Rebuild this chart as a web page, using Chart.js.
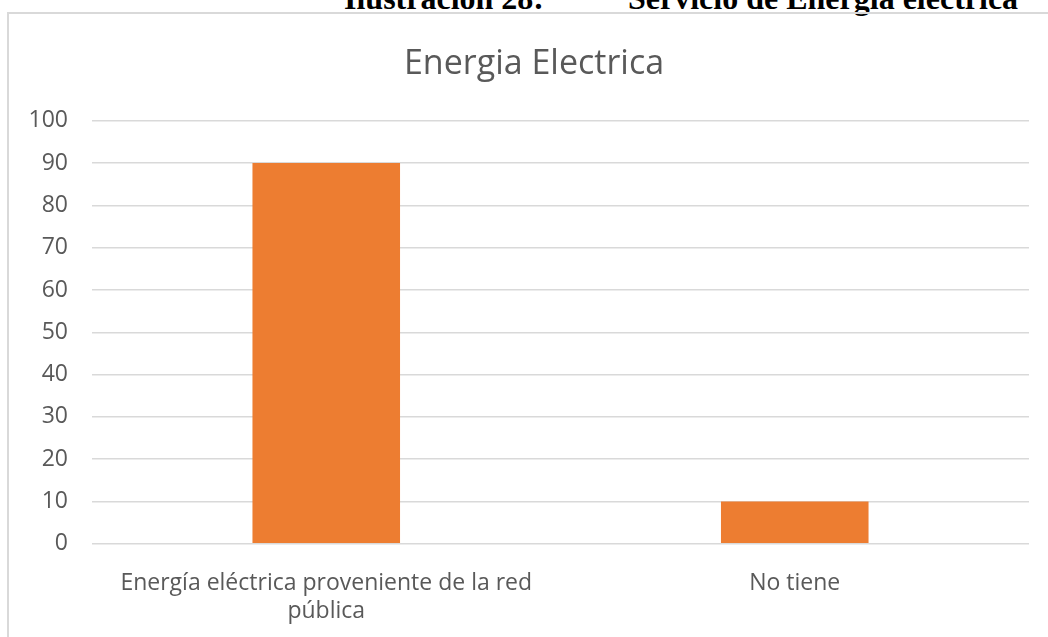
<!DOCTYPE html>
<html>
<head>
<meta charset="utf-8">
<script src="https://cdn.jsdelivr.net/npm/chart.js@4"></script>
<style>
  html, body { margin: 0; padding: 0; background: #fff; overflow: hidden; }
  body { width: 1048px; height: 637px; position: relative; }
  .caption {
    position: absolute; top: -18px; left: 0; width: 1048px; height: 32px;
    font: bold 32px "Liberation Serif", "Times New Roman", serif; color: #000;
    white-space: pre; line-height: 32px;
  }
  .caption span { position: absolute; top: 0; }
  .box {
    position: absolute; left: 7px; top: 12px; width: 1041px; height: 655px;
    border-left: 2px solid #d9d9d9; border-top: 2px solid #d9d9d9;
  }
  #chart { position: absolute; left: 0; top: 0; }
</style>
</head>
<body>
<div class="caption"><span style="left:344px">Ilustración 28:</span><span style="left:628px">Servicio de Energía eléctrica</span></div>
<div class="box"><canvas id="chart" width="1039" height="653"></canvas></div>
<script>
const chartTitle = 'Energia Electrica';
const categories = [['Energía eléctrica proveniente de la red', 'pública'], 'No tiene'];
const values = [90, 10];
const yTicks = [0, 10, 20, 30, 40, 50, 60, 70, 80, 90, 100];

document.addEventListener('DOMContentLoaded', () => {
    const canvas = document.getElementById('chart');
    const textColor = '#595959';

    // nudge the title a bit to the right, like the original
    const titleShift = {
        id: 'titleShift',
        afterLayout(chart) {
            if (chart.titleBlock) {
                chart.titleBlock.left += 15;
                chart.titleBlock.right += 15;
            }
        }
    };

    new Chart(canvas, {
        type: 'bar',
        data: {
            labels: categories,
            datasets: [{
                data: values,
                backgroundColor: '#ED7D31',
                borderWidth: 0,
                categoryPercentage: 0.63,
                barPercentage: 0.5
            }]
        },
        options: {
            responsive: false,
            animation: false,
            layout: { padding: { left: 0, right: 19, top: 0, bottom: 16 } },
            plugins: {
                legend: { display: false },
                tooltip: { enabled: false },
                title: {
                    display: true,
                    text: chartTitle,
                    color: textColor,
                    font: { family: 'Open Sans', size: 34, weight: 'normal', lineHeight: 1.2 },
                    padding: { top: 30, bottom: 36 }
                }
            },
            scales: {
                x: {
                    grid: { display: false, drawTicks: false },
                    border: { display: false },
                    ticks: {
                        color: textColor,
                        font: { family: 'Open Sans', size: 23, lineHeight: 1.2 },
                        maxRotation: 0,
                        padding: 26
                    }
                },
                y: {
                    min: 0,
                    max: 100,
                    afterBuildTicks: (axis) => { axis.ticks = yTicks.map(v => ({ value: v })); },
                    afterFit: (axis) => { axis.width = 83; },
                    grid: { color: '#d9d9d9', lineWidth: 1.5, drawTicks: false },
                    border: { display: false },
                    ticks: {
                        color: textColor,
                        font: { family: 'Open Sans', size: 23 },
                        padding: 24
                    }
                }
            }
        },
        plugins: [titleShift]
    });
});
</script>
</body>
</html>
